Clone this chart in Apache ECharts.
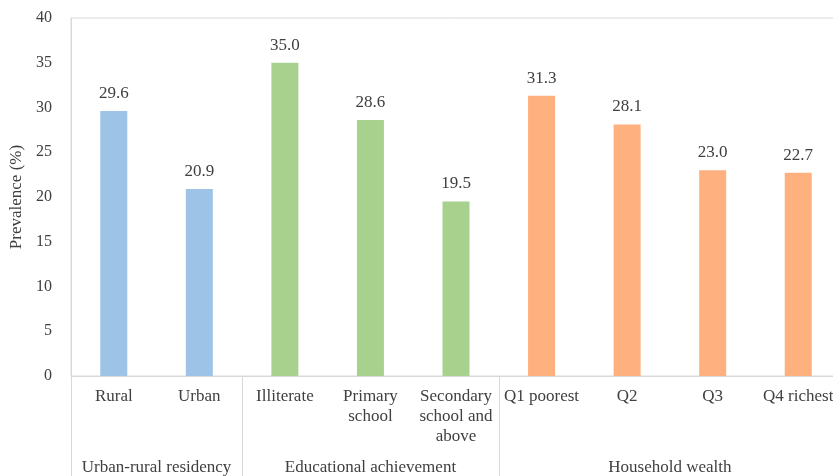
<!DOCTYPE html>
<html>
<head>
<meta charset="utf-8">
<script src="https://cdn.jsdelivr.net/npm/echarts@6/dist/echarts.min.js"></script>
<style>
    html, body { margin: 0; padding: 0; background: #fff; }
    #chart { width: 833px; height: 476px; }
</style>
</head>
<body>
<div id="chart"></div>
<script>
// categories and values
const categories = ['Rural', 'Urban', 'Illiterate', 'Primary\nschool', 'Secondary\nschool and\nabove', 'Q1 poorest', 'Q2', 'Q3', 'Q4 richest'];
const values = [29.6, 20.9, 35.0, 28.6, 19.5, 31.3, 28.1, 23.0, 22.7];
const groupNames = ['Urban-rural residency', 'Educational achievement', 'Household wealth'];
const groupSizes = [2, 3, 4];
const groupColors = ['#9dc3e6', '#a9d18e', '#ffb07f'];
const yTicks = [0, 5, 10, 15, 20, 25, 30, 35, 40];

// group boundaries and centres along the category axis
let groupEdges = [0];
let groupCenters = [];
let barColors = [];
groupSizes.forEach((n, i) => {
    let start = groupEdges[groupEdges.length - 1];
    groupEdges.push(start + n);
    groupCenters.push(start + n / 2);
    for (let k = 0; k < n; k++) barColors.push(groupColors[i]);
});

const font = 'Liberation Serif, Times New Roman, serif';
const lineColor = '#d9d9d9';
const textColor = '#404040';

let chart = echarts.init(document.getElementById('chart'));
chart.setOption({
    animation: false,
    grid: {
        left: 71,
        top: 18,
        height: 358,
        width: 770, // the original is cut off on the right
        outerBoundsMode: 'none',
        containLabel: false,
        show: true,
        borderColor: lineColor,
        borderWidth: 1
    },
    xAxis: [
        {
            type: 'category',
            data: categories,
            axisLine: { show: true, lineStyle: { color: lineColor, width: 1 } },
            axisTick: { show: false },
            axisLabel: {
                interval: 0,
                margin: 11,
                color: textColor,
                fontFamily: font,
                fontSize: 17,
                lineHeight: 20
            }
        },
        {
            // second row: group names with long separator ticks
            type: 'value',
            position: 'bottom',
            min: 0,
            max: groupEdges[groupEdges.length - 1],
            axisLine: { show: false },
            splitLine: { show: false },
            axisTick: {
                show: true,
                customValues: groupEdges,
                length: 100,
                lineStyle: { color: lineColor, width: 1 }
            },
            axisLabel: {
                customValues: groupCenters,
                margin: 83,
                color: textColor,
                fontFamily: font,
                fontSize: 17,
                formatter: (v) => {
                    let idx = groupCenters.indexOf(v);
                    return idx >= 0 ? groupNames[idx] : '';
                }
            }
        }
    ],
    yAxis: {
        type: 'value',
        min: yTicks[0],
        max: yTicks[yTicks.length - 1],
        interval: 5,
        name: 'Prevalence (%)',
        nameLocation: 'middle',
        nameGap: 36,
        nameTextStyle: { color: textColor, fontFamily: font, fontSize: 17 },
        axisLine: { show: true, lineStyle: { color: lineColor, width: 1 } },
        axisTick: { show: false },
        splitLine: { show: false },
        axisLabel: {
            margin: 19,
            color: textColor,
            fontFamily: font,
            fontSize: 16
        }
    },
    series: [
        {
            type: 'bar',
            xAxisIndex: 0,
            barWidth: 27,
            data: values.map((v, i) => ({ value: v, itemStyle: { color: barColors[i] } })),
            label: {
                show: true,
                position: 'top',
                distance: 9,
                color: textColor,
                fontFamily: font,
                fontSize: 17,
                formatter: (p) => p.value.toFixed(1)
            }
        }
    ]
});
</script>
</body>
</html>
